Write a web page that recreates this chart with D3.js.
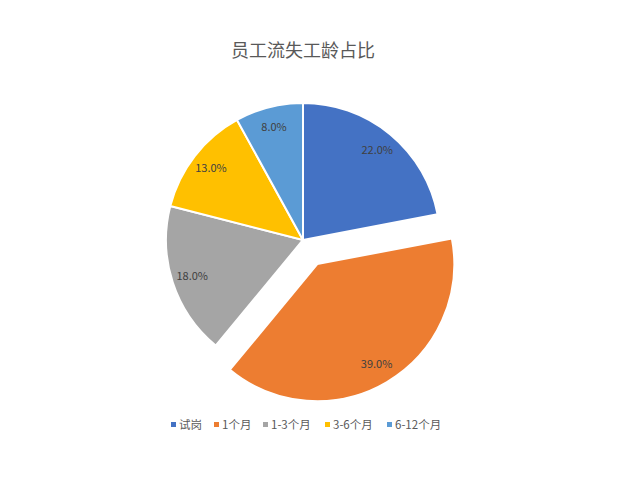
<!DOCTYPE html>
<html>
<head>
<meta charset="utf-8">
<script src="https://cdn.jsdelivr.net/npm/d3@7"></script>
<style>
  body { margin: 0; background: #fff; }
  text { font-family: "Noto Sans CJK SC", "Microsoft YaHei", sans-serif; }
</style>
</head>
<body>
<div id="chart"></div>
<script>
var width = 617, height = 500;

var categories = ["试岗", "1个月", "1-3个月", "3-6个月", "6-12个月"];
var values = [22, 39, 18, 13, 8];
var colors = ["#4472C4", "#ED7D31", "#A5A5A5", "#FFC000", "#5B9BD5"];
var exploded = [0, 1, 0, 0, 0];

var cx = 303, cy = 240, radius = 137, explode = 28;

var svg = d3.select("#chart").append("svg")
    .attr("width", width)
    .attr("height", height);

svg.append("text")
    .attr("x", 303)
    .attr("y", 57)
    .attr("text-anchor", "middle")
    .style("font-size", "18px")
    .style("fill", "#595959")
    .text("员工流失工龄占比");

var data = categories.map((c, i) => ({name: c, value: values[i], color: colors[i], out: exploded[i]}));

var pie = d3.pie().sort(null).value(d => d.value);
var arc = d3.arc().innerRadius(0).outerRadius(radius);
var labelArc = d3.arc().innerRadius(radius * 0.85).outerRadius(radius * 0.85);

var g = svg.append("g")
    .attr("transform", "translate(" + cx + "," + cy + ")");

var slices = g.selectAll(".slice")
    .data(pie(data))
    .enter().append("g")
    .attr("class", "slice")
    .attr("transform", d => {
        if (!d.data.out) return null;
        var a = (d.startAngle + d.endAngle) / 2;
        return "translate(" + (Math.sin(a) * explode) + "," + (-Math.cos(a) * explode) + ")";
    });

slices.append("path")
    .attr("d", arc)
    .style("fill", d => d.data.color)
    .style("stroke", "#fff")
    .style("stroke-width", 2);

var total = d3.sum(values);
slices.append("text")
    .attr("transform", d => "translate(" + labelArc.centroid(d) + ")")
    .attr("text-anchor", "middle")
    .attr("dy", "0.35em")
    .style("font-size", "11px")
    .style("fill", "#404040")
    .text(d => (d.data.value / total * 100).toFixed(1) + "%");

// legend
var legendX = [171, 214, 263, 325, 387];
var legend = svg.append("g");
var items = legend.selectAll(".item")
    .data(data)
    .enter().append("g")
    .attr("class", "item")
    .attr("transform", (d, i) => "translate(" + legendX[i] + ",425)");

items.append("rect")
    .attr("x", 0).attr("y", -3)
    .attr("width", 5).attr("height", 5)
    .style("fill", d => d.color);

items.append("text")
    .attr("x", 8)
    .attr("dy", "0.35em")
    .style("font-size", "11.5px")
    .style("fill", "#595959")
    .text(d => d.name);
</script>
</body>
</html>
